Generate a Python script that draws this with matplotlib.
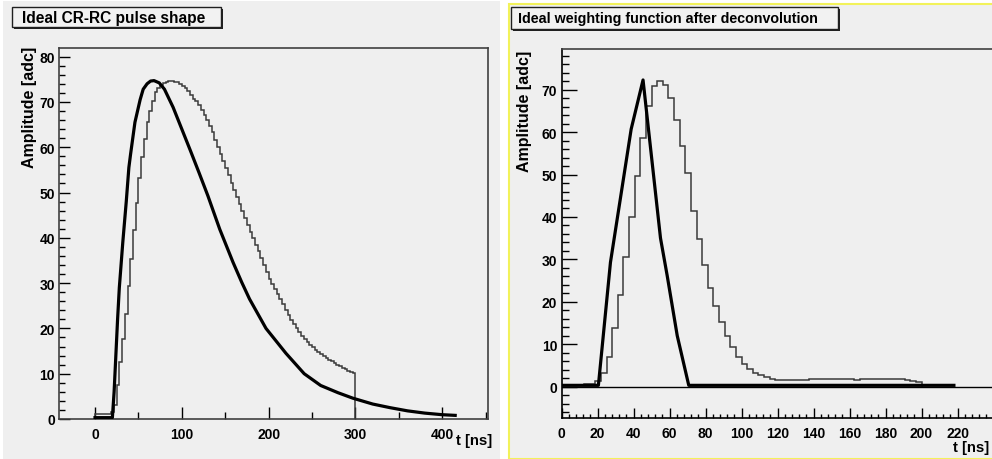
import numpy as np
import matplotlib
matplotlib.use("Agg")
import matplotlib.pyplot as plt
from matplotlib.patches import Rectangle
from matplotlib.ticker import MultipleLocator

# ---------------- data ----------------
# Ideal CR-RC pulse (smooth curve), t [ns] vs amplitude [adc]
crrc_t = [0, 20, 22, 24, 26, 28, 32, 36, 39, 41, 46, 52, 55.5, 60, 64, 68, 74, 80,
          90, 100, 110, 120, 130, 143.7, 159, 169, 178, 197, 220, 241, 260, 280,
          297, 320, 340, 360, 380, 400, 415]
crrc_v = [0.3, 0.3, 6, 14, 22, 29, 39, 48, 55.5, 58.5, 65.5, 70.5, 72.8, 74.0,
          74.6, 74.7, 74.2, 72.8, 68.8, 64.0, 59.2, 54.3, 49.3, 41.9, 34.6, 30.2,
          26.5, 20.0, 14.5, 10.0, 7.4, 5.8, 4.6, 3.3, 2.5, 1.8, 1.3, 0.95, 0.8]

# Sampled CR-RC pulse, 3.125 ns bins from 0 to 300 ns
sampled_bin_ns = 3.125
sampled_v = [1.0, 1.0, 1.0, 1.0, 1.0, 1.0, 1.5, 3.0, 7.5, 12.5,
             17.7, 23.2, 29.3, 35.3, 41.8, 47.6, 53.2, 57.8, 61.8, 65.5,
             68.1, 70.3, 72.1, 73.0, 73.8, 74.2, 74.5, 74.6, 74.6, 74.5,
             74.3, 74.0, 73.5, 73.0, 72.3, 71.5, 70.6, 70.2, 69.3, 68.3,
             67.2, 66.0, 64.7, 63.3, 61.6, 60.1, 58.6, 57.0, 55.4, 53.8,
             52.2, 50.6, 49.0, 47.5, 46.0, 44.4, 42.8, 41.3, 39.9, 38.5,
             37.1, 35.6, 34.0, 32.5, 31.0, 29.8, 28.6, 27.5, 26.4, 25.3,
             24.1, 23.0, 21.9, 20.9, 20.0, 19.1, 18.3, 17.6, 17.0, 16.4,
             15.8, 15.2, 14.7, 14.3, 13.9, 13.5, 13.1, 12.7, 12.3, 12.0,
             11.6, 11.3, 11.0, 10.7, 10.4, 10.1]

# Ideal weighting function (polyline)
weight_t = [0, 20.5, 27.2, 38.7, 45.3, 55.0, 58.7, 64.3, 70.7, 218]
weight_v = [0.3, 0.3, 29.3, 60.7, 72.3, 35.0, 26.2, 12.0, 0.3, 0.3]

# Deconvolved samples, 3.125 ns bins from 0 to 200 ns
deconv_bin_ns = 3.125
deconv_v = [0.3, 0.3, 0.3, 0.3, 0.6, 0.6, 1.4, 3.2, 6.9, 13.8,
            21.5, 30.5, 39.9, 49.7, 58.5, 66.2, 70.8, 72.1, 71.1, 68.0,
            62.9, 56.7, 50.3, 41.4, 34.8, 28.7, 23.2, 19.1, 15.2, 12.0,
            9.3, 6.9, 5.3, 4.2, 3.2, 2.8, 2.2, 1.8, 1.6, 1.6,
            1.6, 1.6, 1.6, 1.6, 1.7, 1.9, 1.8, 1.7, 1.7, 1.7,
            1.7, 1.8, 1.6, 1.8, 1.9, 1.9, 1.9, 1.8, 1.7, 1.9,
            1.8, 1.5, 1.3, 1.2]

left_title = "Ideal CR-RC pulse shape"
right_title = "Ideal weighting function after deconvolution"
y_label = "Amplitude [adc]"
x_label = "t [ns]"
right_xticks = list(range(0, 240, 20))

# ---------------- layout helpers ----------------
W, H = 992, 460
def fx(px):
    return px / W
def fy(py):
    return 1 - py / H

PAD_COLOR = "#efefef"
FONT = ["Liberation Sans", "DejaVu Sans"]
plt.rcParams["font.family"] = FONT
plt.rcParams["font.weight"] = "bold"
TICK_FS = 10
LABEL_FS = 11.5

fig = plt.figure(figsize=(W / 100, H / 100), dpi=100, facecolor="white")

# canvas pads (behind the axes)
fig.patches.append(Rectangle((fx(3), fy(460)), fx(500) - fx(3), fy(2) - fy(460),
                             transform=fig.transFigure, facecolor=PAD_COLOR,
                             edgecolor="none", zorder=-5))
fig.patches.append(Rectangle((fx(508.5), fy(460)), fx(1000) - fx(508.5), fy(5) - fy(460),
                             transform=fig.transFigure, facecolor=PAD_COLOR,
                             edgecolor="#f2f25a", linewidth=1.5, zorder=-5))

def title_box(x0, y0, x1, y1, text, tx, fs):
    shadow = Rectangle((fx(x0 + 2), fy(y1 + 2)), fx(x1) - fx(x0), fy(y0) - fy(y1),
                       transform=fig.transFigure, facecolor="#202020",
                       edgecolor="none", zorder=2)
    box = Rectangle((fx(x0), fy(y1)), fx(x1) - fx(x0), fy(y0) - fy(y1),
                    transform=fig.transFigure, facecolor="#f2f2f2",
                    edgecolor="#202020", linewidth=1.0, zorder=3)
    fig.patches.extend([shadow, box])
    fig.text(fx(tx), fy((y0 + y1) / 2 + 0.5), text, ha="left", va="center",
             fontsize=fs, fontweight="bold", color="black", zorder=4)

title_box(11.5, 7.5, 221, 28, left_title, 22.5, 11.2)
title_box(511, 7.5, 838, 30, right_title, 518, 10.3)

def style_axes(ax):
    ax.set_facecolor(PAD_COLOR)
    for s in ax.spines.values():
        s.set_color("#404040")
        s.set_linewidth(1.2)
    ax.tick_params(which="both", direction="in", top=False, right=False,
                   colors="black", labelsize=TICK_FS, width=1.0)

def bold_labels(ax):
    for lab in ax.get_xticklabels() + ax.get_yticklabels():
        lab.set_fontweight("bold")

# ---------------- left: CR-RC pulse ----------------
axl = fig.add_axes([fx(59), fy(420), fx(488) - fx(59), fy(49) - fy(420)])
style_axes(axl)
edges_l = np.arange(len(sampled_v) + 1) * sampled_bin_ns
axl.stairs(sampled_v, edges_l, color="#3a3a3a", linewidth=1.1, zorder=3)
axl.plot(crrc_t, crrc_v, color="black", linewidth=2.3, zorder=4,
         solid_joinstyle="round")
axl.set_xlim(-41.5, 452.8)
axl.set_ylim(0, 81.9)
axl.xaxis.set_major_locator(MultipleLocator(100))
axl.xaxis.set_minor_locator(MultipleLocator(50))
axl.yaxis.set_major_locator(MultipleLocator(10))
axl.yaxis.set_minor_locator(MultipleLocator(2))
axl.tick_params(axis="x", which="major", length=8.5, pad=6)
axl.tick_params(axis="x", which="minor", length=5)
axl.tick_params(axis="y", which="major", length=8, pad=3)
axl.tick_params(axis="y", which="minor", length=4.5)
bold_labels(axl)

fig.text(fx(29.5), fy(47), y_label, rotation=90, ha="center", va="top",
         fontsize=LABEL_FS, fontweight="bold")
fig.text(fx(492), fy(434), x_label, ha="right", va="top",
         fontsize=LABEL_FS - 0.8, fontweight="bold")

# ---------------- right: weighting function ----------------
axr = fig.add_axes([fx(561.5), fy(419), fx(1011.5) - fx(561.5), fy(50) - fy(419)])
style_axes(axr)
axr.spines["right"].set_visible(False)
axr.spines["left"].set_color("black")
axr.spines["bottom"].set_color("black")
axr.axhline(0, color="black", linewidth=1.0, zorder=2)
edges_r = np.arange(len(deconv_v) + 1) * deconv_bin_ns
axr.stairs(deconv_v, edges_r, color="#3a3a3a", linewidth=1.1, zorder=3)
axr.plot(weight_t, weight_v, color="black", linewidth=2.3, zorder=4)
axr.set_xlim(0, 250)
axr.set_ylim(-7.4, 79.6)
axr.set_yticks(np.arange(0, 80, 10))
axr.set_xticks(right_xticks)
axr.xaxis.set_minor_locator(MultipleLocator(4))
axr.yaxis.set_minor_locator(MultipleLocator(2))
axr.tick_params(axis="x", which="major", length=7.5, pad=6)
axr.tick_params(axis="x", which="minor", length=3)
axr.tick_params(axis="y", which="major", length=10.5, pad=3)
axr.tick_params(axis="y", which="minor", length=5)
bold_labels(axr)

fig.text(fx(524), fy(51), y_label, rotation=90, ha="center", va="top",
         fontsize=LABEL_FS, fontweight="bold")
fig.text(fx(953), fy(441), x_label, ha="left", va="top",
         fontsize=LABEL_FS - 0.8, fontweight="bold")

fig.savefig("out.png", dpi=100, facecolor=fig.get_facecolor())
